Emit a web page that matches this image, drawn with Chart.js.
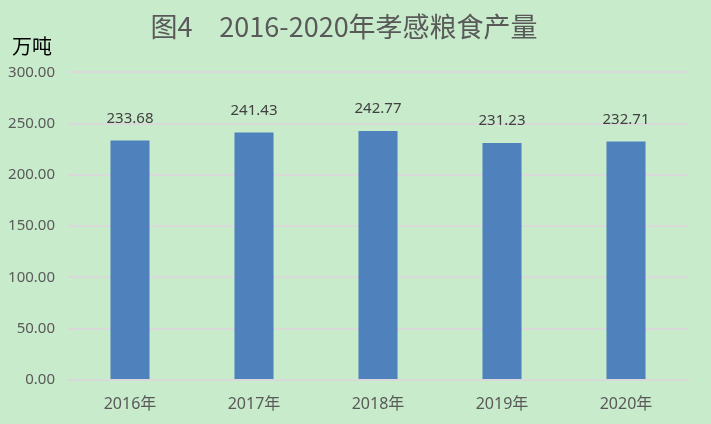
<!DOCTYPE html>
<html>
<head>
<meta charset="utf-8">
<script src="https://cdn.jsdelivr.net/npm/chart.js@4"></script>
<style>
html,body{margin:0;padding:0;background:#C8EBCB;}
#wrap{width:711px;height:424px;}
</style>
</head>
<body>
<div id="wrap"><canvas id="c" width="711" height="424"></canvas></div>
<script>
const categories = ["2016年", "2017年", "2018年", "2019年", "2020年"];
const production = [233.68, 241.43, 242.77, 231.23, 232.71];
const yTicks = [0, 50, 100, 150, 200, 250, 300];
const titleText = "图4\u30002016-2020年孝感粮食产量";
const unitText = "万吨";

const bgPlugin = {
  id: 'bg',
  beforeDraw(chart) {
    const ctx = chart.ctx;
    ctx.save();
    ctx.fillStyle = '#C8EBCB';
    ctx.fillRect(0, 0, chart.width, chart.height);
    ctx.restore();
  }
};

const extrasPlugin = {
  id: 'extras',
  afterDatasetsDraw(chart) {
    const ctx = chart.ctx;
    ctx.save();
    // unit label
    ctx.fillStyle = '#000000';
    ctx.font = '20px "Noto Sans CJK SC"';
    ctx.textAlign = 'left';
    ctx.textBaseline = 'middle';
    ctx.fillText(unitText, 12, 46);
    // data labels
    const meta = chart.getDatasetMeta(0);
    ctx.fillStyle = '#404040';
    ctx.font = '15px "Noto Sans", "Noto Sans CJK SC"';
    ctx.textAlign = 'center';
    ctx.textBaseline = 'middle';
    meta.data.forEach((bar, i) => {
      ctx.fillText(production[i].toFixed(2), bar.x, bar.y - 22);
    });
    ctx.restore();
  }
};

new Chart(document.getElementById('c'), {
  type: 'bar',
  data: {
    labels: categories,
    datasets: [{
      data: production,
      backgroundColor: '#4F81BD',
      borderWidth: 0,
      categoryPercentage: 1.0,
      barPercentage: 0.315
    }]
  },
  options: {
    responsive: false,
    animation: false,
    devicePixelRatio: 1,
    layout: { padding: { left: 0, right: 23, top: 0, bottom: 0 } },
    plugins: {
      legend: { display: false },
      tooltip: { enabled: false },
      title: {
        display: true,
        text: titleText,
        color: '#595959',
        font: { family: '"Noto Sans CJK SC"', size: 27, weight: 'normal' },
        padding: { top: 11, bottom: 29 }
      }
    },
    scales: {
      x: {
        grid: { display: false },
        border: { display: true, color: '#D9D9D9', width: 2 },
        ticks: {
          color: '#595959',
          font: { family: '"Noto Sans", "Noto Sans CJK SC"', size: 16 },
          padding: 7
        },
        afterFit(scale) { scale.height = 44; }
      },
      y: {
        min: 0,
        max: 300,
        afterBuildTicks(scale) { scale.ticks = yTicks.map(v => ({ value: v })); },
        grid: { color: '#D9D9D9', lineWidth: 2, drawTicks: false },
        border: { display: false },
        ticks: {
          color: '#595959',
          font: { family: '"Noto Sans", "Noto Sans CJK SC"', size: 15 },
          padding: 13,
          callback: v => Number(v).toFixed(2)
        },
        afterFit(scale) { scale.width = 68; }
      }
    }
  },
  plugins: [bgPlugin, extrasPlugin]
});
</script>
</body>
</html>
